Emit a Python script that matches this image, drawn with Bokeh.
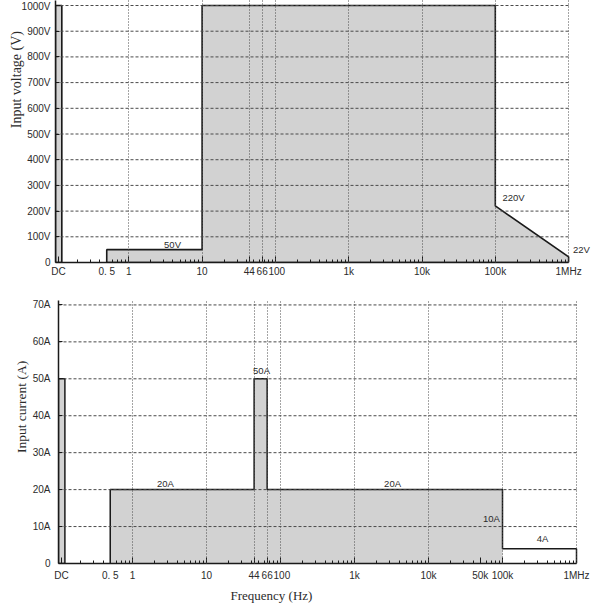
import math
from bokeh.plotting import figure
from bokeh.models import FixedTicker, Range1d, Label, Title
from bokeh.embed import file_html
from bokeh.resources import INLINE

# ---------------- data ----------------
dc_band = [0.1, 0.122]            # where "DC" sits on the log frequency axis
# input voltage limit (Hz, V)
v_freq = [0.5, 0.5, 10, 10, 1e5, 1e5, 1e6, 1e6]
v_volt = [0, 50, 50, 1000, 1000, 220, 22, 0]
v_dc = 1000
v_ticks = [0, 100, 200, 300, 400, 500, 600, 700, 800, 900, 1000]
v_tick_labels = ["0", "100V", "200V", "300V", "400V", "500V", "600V", "700V", "800V", "900V", "1000V"]
# input current limit (Hz, A)
i_freq = [0.5, 0.5, 44, 44, 66, 66, 1e5, 1e5, 1e6, 1e6]
i_amp = [0, 20, 20, 50, 50, 20, 20, 4, 4, 0]
i_dc = 50
i_ticks = [0, 10, 20, 30, 40, 50, 60, 70]
i_tick_labels = ["0", "10A", "20A", "30A", "40A", "50A", "60A", "70A"]
# frequency axes
f_ticks_top = [0.11, 0.5, 1, 10, 44, 66, 100, 1e3, 1e4, 1e5, 1e6]
f_labels_top = ["DC", "0. 5", "1", "10", "44", "66", "\u00a0100", "1k", "10k", "100k", "1MHz"]
f_ticks_bot = [0.11, 0.5, 1, 10, 44, 66, 100, 1e3, 1e4, 5e4, 1e5, 1e6]
f_labels_bot = ["DC", "0. 5", "1", "10", "44", "66", "\u00a0100", "1k", "10k", "50k", "100k", "1MHz"]
f_grid = [1, 10, 44, 66, 100, 1e3, 1e4, 1e5, 1e6]
f_max = 1e6

# ---------------- style ----------------
FILL = "#d2d2d2"
EDGE = "#1a1a1a"
GRID = "#4a4a4a"
TXT = "#2b2b2b"
SANS = "Liberation Sans"
SERIF = "Liberation Serif"

minor = [m * 10 ** d for d in range(-1, 6) for m in range(2, 10) if m * 10 ** d >= 0.2]


def style(p, fticks, flabels, yticks, ylabels):
    p.outline_line_color = None
    ax = p.xaxis[0]
    ax.ticker = FixedTicker(ticks=fticks, minor_ticks=minor)
    ax.major_label_overrides = {t: l for t, l in zip(fticks, flabels)}
    ax.bounds = (dc_band[0], f_max)
    ax.major_tick_in = 6
    ax.major_tick_out = 0
    ax.minor_tick_in = 3
    ax.minor_tick_out = 0
    ax.axis_line_color = EDGE
    ax.axis_line_width = 1.5
    ax.major_tick_line_color = EDGE
    ax.minor_tick_line_color = EDGE
    ax.major_label_text_font = SANS
    ax.major_label_text_font_size = "10px"
    ax.major_label_text_color = TXT
    ay = p.yaxis[0]
    ay.ticker = FixedTicker(ticks=yticks)
    ay.major_label_overrides = {t: l for t, l in zip(yticks, ylabels)}
    ay.major_tick_in = 4
    ay.major_tick_out = 0
    ay.minor_tick_in = 0
    ay.minor_tick_out = 0
    ay.axis_line_color = EDGE
    ay.axis_line_width = 1.5
    ay.major_tick_line_color = EDGE
    ay.major_label_text_font = SANS
    ay.major_label_text_font_size = "10px"
    ay.major_label_text_color = TXT
    p.xgrid.ticker = FixedTicker(ticks=f_grid)
    p.xgrid.grid_line_color = GRID
    p.xgrid.grid_line_dash = "1 2"
    p.xgrid.grid_line_width = 1
    p.xgrid.level = "annotation"
    p.ygrid.visible = False


def hgrid(p, yticks):
    ys = yticks[1:]
    p.segment(x0=[dc_band[0]] * len(ys), x1=[f_max] * len(ys), y0=ys, y1=ys,
              line_color=GRID, line_dash="3 2", line_width=1)


def note(p, x, y, text, dx=0, dy=0, size="9.5px", font=SANS, align="center"):
    p.add_layout(Label(x=x, y=y, text=text, x_offset=dx, y_offset=dy,
                       text_font=font, text_font_size=size, text_color=TXT,
                       text_align=align, text_baseline="middle"))


def side_title(p, text, side, align, offset, standoff, size="13.5px"):
    p.add_layout(Title(text=text, align=align, offset=offset, standoff=standoff,
                       text_font=SERIF, text_font_size=size, text_font_style="normal",
                       text_color=TXT), side)


# ---------------- top: voltage ----------------
p1 = figure(width=600, height=282, x_axis_type="log",
            x_range=Range1d(0.1, 10 ** (-1 + 540 / 73.3)), y_range=Range1d(0, 1019.5),
            min_border_left=55, min_border_right=5, min_border_top=0, min_border_bottom=20,
            output_backend="svg", toolbar_location=None)
style(p1, f_ticks_top, f_labels_top, v_ticks, v_tick_labels)
p1.xaxis[0].major_label_standoff = 3
p1.yaxis[0].major_label_standoff = 5
p1.quad(left=dc_band[0], right=dc_band[1], bottom=0, top=v_dc,
        fill_color=FILL, line_color=EDGE, line_width=1.6)
p1.patch(v_freq, v_volt, fill_color=FILL, line_color=EDGE, line_width=1.6)
hgrid(p1, v_ticks)
note(p1, 3.95, 70, "50V")
note(p1, 1.77e5, 253, "220V")
note(p1, 1.5e6, 50, "22V")
side_title(p1, "Input  voltage (V)", "left", "right", 27, -10, "14px")

# ---------------- bottom: current ----------------
p2 = figure(width=600, height=322, x_axis_type="log",
            x_range=Range1d(0.1, 10 ** (6 + 2 / 74.0)), y_range=Range1d(0, 71.2),
            min_border_left=58, min_border_right=22, min_border_top=18, min_border_bottom=41,
            output_backend="svg", toolbar_location=None)
style(p2, f_ticks_bot, f_labels_bot, i_ticks, i_tick_labels)
p2.xaxis[0].major_label_standoff = 6
p2.yaxis[0].major_label_standoff = 8
p2.quad(left=dc_band[0], right=dc_band[1], bottom=0, top=i_dc,
        fill_color=FILL, line_color=EDGE, line_width=1.5)
k = i_freq.index(1e5) + 1
p2.patch(i_freq[:k] + [i_freq[k - 1]], i_amp[:k] + [0], fill_color=FILL, line_color=None)
p2.line(i_freq, i_amp, line_color=EDGE, line_width=1.5)
hgrid(p2, i_ticks)
note(p2, 55.4, 52.2, "50A")
note(p2, 2.79, 21.7, "20A")
note(p2, 3.27e3, 21.7, "20A")
note(p2, 7.1e4, 12.2, "10A")
note(p2, 3.47e5, 6.8, "4A")
side_title(p2, "Input  current (A)", "left", "right", 57, 2)
side_title(p2, "Frequency (Hz)", "below", "left", 172, 4, "13px")

open("out.html", "w").write(file_html([p1, p2], INLINE))
